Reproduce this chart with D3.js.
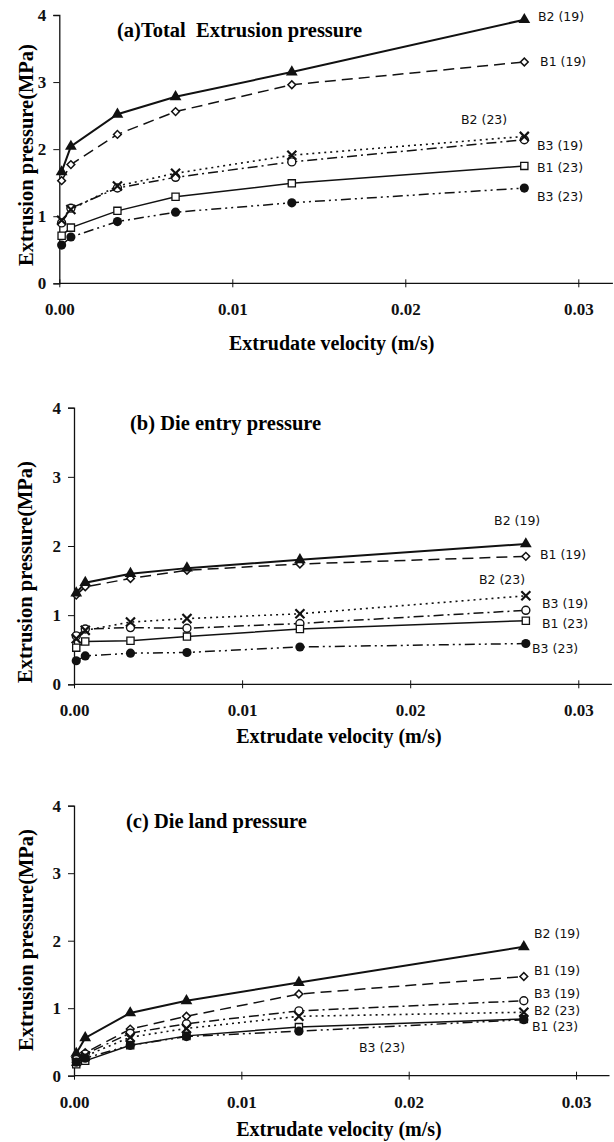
<!DOCTYPE html>
<html>
<head>
<meta charset="utf-8">
<script src="https://cdn.jsdelivr.net/npm/d3@7"></script>
<style>
  body { margin: 0; background: #fff; }
  svg { display: block; }
  .bold { font-family: "Liberation Serif", "Times New Roman", serif; font-weight: bold; }
  .lab { font-family: "DejaVu Sans", Verdana, sans-serif; font-size: 12.5px; }
</style>
</head>
<body>
<div id="chart"></div>
<script>
// extrudate velocity (m/s)
const velocity = [0.000134, 0.00067, 0.00336, 0.00672, 0.01344, 0.02688];
const seriesNames = ["B1 (19)", "B2 (19)", "B3 (19)", "B1 (23)", "B2 (23)", "B3 (23)"];

// pressure (MPa), one row per series in seriesNames order
const totalPressure = [
  [1.53, 1.77, 2.22, 2.56, 2.96, 3.30],
  [1.66, 2.04, 2.52, 2.78, 3.15, 3.93],
  [0.90, 1.12, 1.42, 1.58, 1.81, 2.14],
  [0.71, 0.83, 1.08, 1.29, 1.49, 1.75],
  [0.94, 1.10, 1.45, 1.64, 1.91, 2.19],
  [0.57, 0.69, 0.92, 1.06, 1.20, 1.42]
];
const entryPressure = [
  [1.29, 1.41, 1.53, 1.65, 1.74, 1.85],
  [1.32, 1.47, 1.60, 1.68, 1.80, 2.03],
  [0.70, 0.80, 0.82, 0.81, 0.88, 1.07],
  [0.53, 0.62, 0.63, 0.69, 0.80, 0.92],
  [0.66, 0.78, 0.90, 0.95, 1.02, 1.28],
  [0.34, 0.41, 0.45, 0.46, 0.54, 0.59]
];
const landPressure = [
  [0.27, 0.34, 0.69, 0.88, 1.21, 1.47],
  [0.33, 0.56, 0.93, 1.11, 1.38, 1.91],
  [0.24, 0.32, 0.63, 0.77, 0.96, 1.11],
  [0.17, 0.22, 0.45, 0.59, 0.72, 0.84],
  [0.21, 0.29, 0.57, 0.70, 0.88, 0.94],
  [0.20, 0.26, 0.45, 0.58, 0.66, 0.83]
];

// where each series label sits, in data units [velocity, pressure]
const totalLabelAt = [[0.02779, 3.30], [0.02767, 3.97], [0.02761, 2.06], [0.02761, 1.72], [0.02322, 2.435], [0.02761, 1.29]];
const entryLabelAt = [[0.02772, 1.87], [0.02499, 2.366], [0.02784, 1.16], [0.02784, 0.88], [0.02409, 1.51], [0.02725, 0.52]];
const landLabelAt = [[0.02749, 1.55], [0.02749, 2.11], [0.02749, 1.22], [0.02737, 0.73], [0.02749, 0.97], [0.01703, 0.41]];

const xTicks = [0, 0.01, 0.02, 0.03];
const yTicks = [0, 1, 2, 3, 4];

const panels = [
  { title: "(a)Total  Extrusion pressure", data: totalPressure, labels: totalLabelAt,
    left: 59.3, right: 612.9, top: 15, bottom: 283.3, titleX: 117, yTitleX: 27, yTitleY: 155, xTitleY: 343 },
  { title: "(b) Die entry pressure", data: entryPressure, labels: entryLabelAt,
    left: 74, right: 611.9, top: 407.7, bottom: 684.3, titleX: 130, yTitleX: 26, yTitleY: 572, xTitleY: 736 },
  { title: "(c) Die land pressure", data: landPressure, labels: landLabelAt,
    left: 74, right: 609.5, top: 805.7, bottom: 1075.7, titleX: 126, yTitleX: 27, yTitleY: 940, xTitleY: 1129 }
];

// line style + marker per series
const styles = [
  { dash: "11,6", width: 1.5, marker: "diamond" },
  { dash: null, width: 2, marker: "triangle" },
  { dash: "10,4,2,4", width: 1.5, marker: "circleOpen" },
  { dash: null, width: 1.5, marker: "square" },
  { dash: "2,4", width: 1.6, marker: "x" },
  { dash: "10,4,2,4,2,4", width: 1.5, marker: "circleFilled" }
];

const W = 614, H = 1142;
const svg = d3.select("#chart").append("svg").attr("width", W).attr("height", H);

panels.forEach((p) => {
  const x = d3.scaleLinear().domain([0, 0.032]).range([p.left, p.right]);
  const y = d3.scaleLinear().domain([0, 4]).range([p.bottom, p.top]);
  const g = svg.append("g");

  // axes
  const xa = g.append("g")
    .attr("transform", `translate(0,${p.bottom})`)
    .call(d3.axisBottom(x).tickValues(xTicks).tickFormat(d3.format(".2f")).tickSizeOuter(0).tickSize(4).tickPadding(16));
  xa.select(".domain").attr("d", `M${p.left},0H${p.right}`).attr("stroke", "#111").attr("stroke-width", 1.3);
  xa.selectAll(".tick line").attr("y1", -4).attr("y2", 4).attr("stroke", "#111");
  xa.selectAll(".tick text").attr("class", "bold").style("font-size", "17px").attr("fill", "#111");

  const ya = g.append("g")
    .attr("transform", `translate(${p.left},0)`)
    .call(d3.axisLeft(y).tickValues(yTicks).tickFormat(d3.format("d")).tickSizeOuter(0).tickSize(6).tickPadding(7));
  ya.select(".domain").attr("stroke", "#111").attr("stroke-width", 1.3);
  ya.selectAll(".tick line").attr("stroke", "#111");
  ya.selectAll(".tick text").attr("class", "bold").style("font-size", "17px").attr("fill", "#111");

  // titles
  g.append("text").attr("class", "bold")
    .attr("x", p.titleX).attr("y", (p.top + 15))
    .attr("dy", "0.34em")
    .style("font-size", "20.5px").style("white-space", "pre")
    .text(p.title);
  g.append("text").attr("class", "bold")
    .attr("transform", `translate(${p.yTitleX},${p.yTitleY}) rotate(-90)`)
    .attr("text-anchor", "middle").attr("dy", "0.3em")
    .style("font-size", "20.5px")
    .text("Extrusion pressure(MPa)");
  g.append("text").attr("class", "bold")
    .attr("x", (p.left + 594) / 2 + 5).attr("y", p.xTitleY)
    .attr("text-anchor", "middle").attr("dy", "0.34em")
    .style("font-size", "20px")
    .text("Extrudate velocity (m/s)");

  const line = d3.line().x((d, i) => x(velocity[i])).y((d) => y(d));

  p.data.forEach((vals, si) => {
    const s = styles[si];
    g.append("path")
      .datum(vals)
      .attr("d", line)
      .attr("fill", "none")
      .attr("stroke", "#111")
      .attr("stroke-width", s.width)
      .attr("stroke-dasharray", s.dash);
  });

  p.data.forEach((vals, si) => {
    const s = styles[si];
    const pts = g.append("g").selectAll("path").data(vals).join("path")
      .attr("transform", (d, i) => `translate(${x(velocity[i])},${y(d)})`);
    if (s.marker === "triangle") {
      pts.attr("d", d3.symbol(d3.symbolTriangle, 60)).attr("fill", "#111");
    } else if (s.marker === "diamond") {
      pts.attr("d", d3.symbol(d3.symbolSquare, 30))
        .attr("transform", (d, i) => `translate(${x(velocity[i])},${y(d)}) rotate(45)`)
        .attr("fill", "#fff").attr("stroke", "#111").attr("stroke-width", 1.5);
    } else if (s.marker === "square") {
      pts.attr("d", d3.symbol(d3.symbolSquare, 52)).attr("fill", "#fff").attr("stroke", "#111").attr("stroke-width", 1.3);
    } else if (s.marker === "circleOpen") {
      pts.attr("d", d3.symbol(d3.symbolCircle, 50)).attr("fill", "#fff").attr("stroke", "#111").attr("stroke-width", 1.4);
    } else if (s.marker === "circleFilled") {
      pts.attr("d", d3.symbol(d3.symbolCircle, 66)).attr("fill", "#111");
    } else if (s.marker === "x") {
      pts.attr("d", d3.symbol(d3.symbolTimes, 55)).attr("fill", "none").attr("stroke", "#111").attr("stroke-width", 2.2);
    }
  });

  // series labels
  g.selectAll("text.lab").data(p.labels).join("text")
    .attr("class", "lab")
    .attr("x", (d) => x(d[0])).attr("y", (d) => y(d[1]))
    .attr("dy", "0.35em")
    .attr("fill", "#111")
    .text((d, i) => seriesNames[i]);
});
</script>
</body>
</html>
